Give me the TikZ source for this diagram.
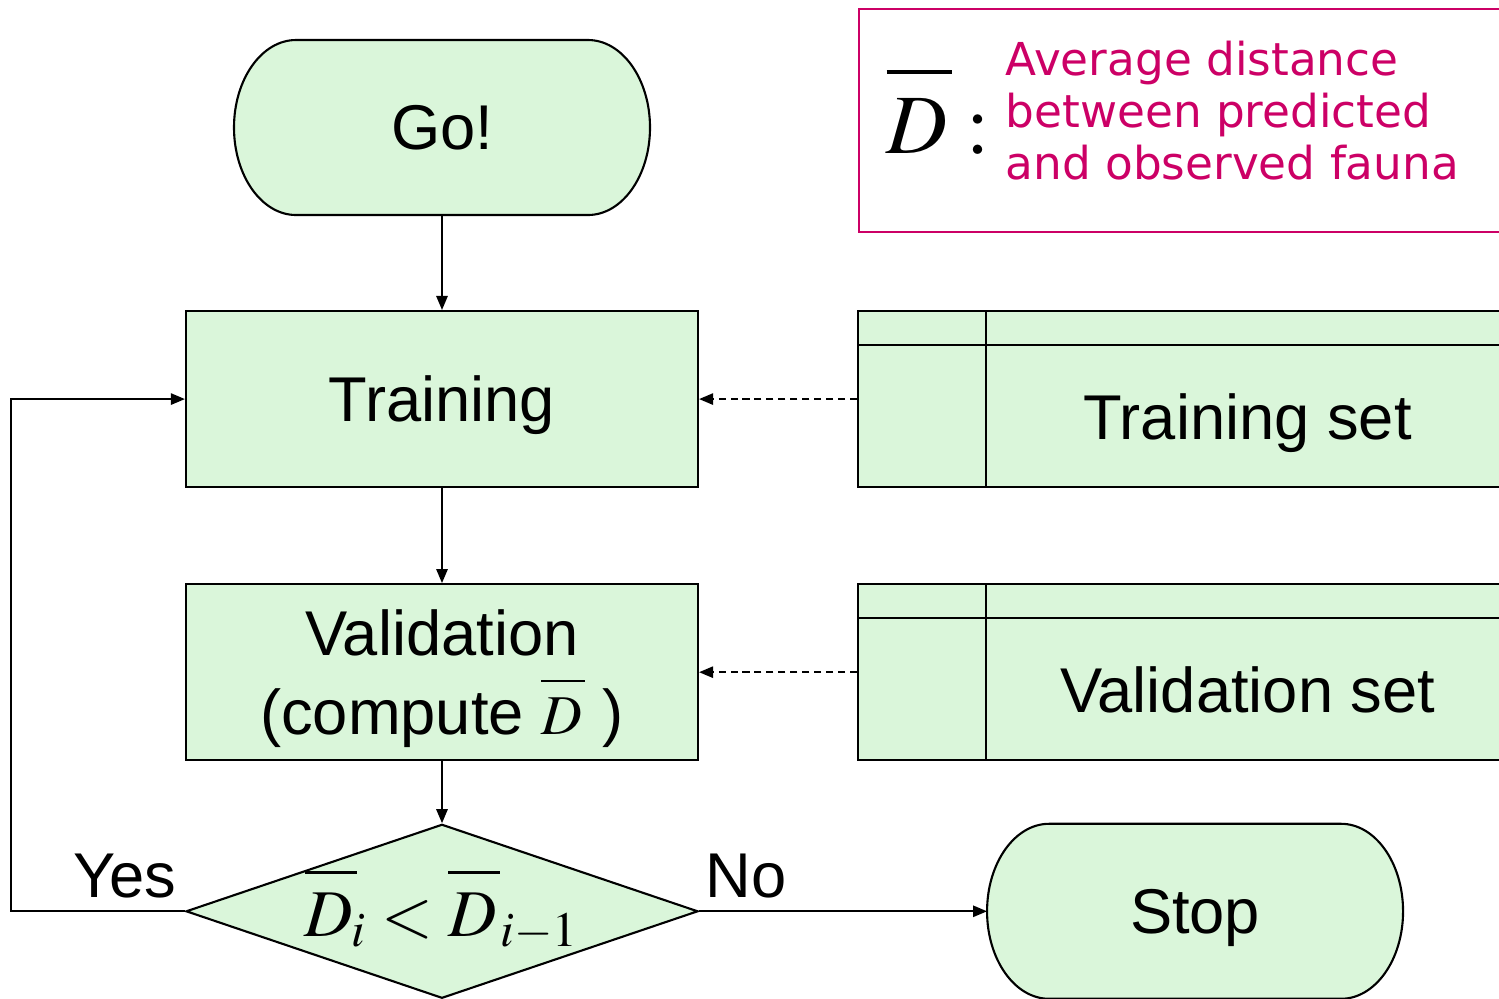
\documentclass[tikz,border=0pt]{standalone}
\usepackage{mathptmx}
\usepackage[no-math]{fontspec}
\setmainfont{Liberation Sans}
\newfontfamily\legendfont{DejaVu Sans}
\usetikzlibrary{arrows.meta, positioning, shapes.geometric, calc, backgrounds}

\definecolor{boxgreen}{RGB}{218,246,218}
\definecolor{legendpink}{RGB}{204,0,102}

% mean distance symbol, bar raised well above the letter
\newcommand{\Dbar}{\overline{\rule{0pt}{0.82em}D\mkern1mu}}

\tikzset{
  flow/.style={draw, line width=0.6pt, fill=boxgreen, align=center,
    font=\fontsize{18}{22.5}\selectfont},
  terminal/.style={line width=0.6pt, outer sep=0pt, minimum width=4.16cm, minimum height=1.75cm,
    text depth=0pt, font=\fontsize{18}{22.5}\selectfont},
  process/.style={flow, minimum width=5.12cm, minimum height=1.76cm, text depth=0pt},
  decision/.style={flow, diamond, aspect=2.94, inner sep=0pt, minimum width=5.12cm,
    minimum height=1.74cm, text height=0.5cm, text depth=0cm, font=\fontsize{19}{22}\selectfont},
  store/.style={flow, minimum width=6.5cm, minimum height=1.76cm},
  storetext/.style={font=\fontsize{18}{22}\selectfont, text depth=0pt},
  answer/.style={inner sep=0pt, font=\fontsize{18}{22}\selectfont},
  link/.style={-{Triangle[length=4pt,width=3.2pt]}, line width=0.6pt},
  feed/.style={link, dash pattern=on 2pt off 1.4pt},
}

\begin{document}
\begin{tikzpicture}[node distance=0.95cm]
\clip (0,0) rectangle (14.99,-9.98);

% main flow
\node[terminal] (go) at (4.42,-1.275) {Go!};
\node[process] (training) [below=of go] {Training};
\node[process] (validation) [below=of training] {Validation\\(compute {\fontsize{16}{20}\selectfont$\Dbar$} )};
\node[decision] (check) [below=0.62cm of validation] {$\Dbar_{\!i} < \Dbar_{i-1}$};
\node[terminal] (stop) [right=2.88cm of check] {Stop};

\node[answer, anchor=base east] (yes) at ($(check.west)+(-0.08,0.14)$) {Yes};
\node[answer, anchor=base west] (no) at ($(check.east)+(0.06,0.14)$) {No};

% start/stop outlines with elliptic ends
\begin{scope}[on background layer]
\foreach \n in {go, stop}
  \draw[line width=0.6pt, fill=boxgreen]
    ([xshift=0.62cm]\n.north west) -- ([xshift=-0.62cm]\n.north east)
    arc[start angle=90, end angle=-90, x radius=0.62cm, y radius=0.875cm]
    -- ([xshift=0.62cm]\n.south west)
    arc[start angle=270, end angle=90, x radius=0.62cm, y radius=0.875cm] -- cycle;
\end{scope}

% data stores
\node[store] (trainset) [right=1.58cm of training] {};
\node[store] (validset) [right=1.58cm of validation] {};
\foreach \s/\t in {trainset/Training set, validset/Validation set} {
  \draw[line width=0.6pt] ([xshift=1.29cm]\s.north west) -- ([xshift=1.29cm]\s.south west);
  \draw[line width=0.6pt] ([yshift=-0.35cm]\s.north west) -- ([yshift=-0.35cm]\s.north east);
  \node[storetext] (\s-label) at ($([xshift=1.29cm]\s.south west)!0.5!([yshift=-0.35cm]\s.north east)$) {\t};
}

% legend
\node[draw=legendpink, line width=0.5pt, minimum width=6.6cm, minimum height=2.23cm,
  anchor=north west] (legend) at (8.58,-0.08) {};
\node[anchor=base west, inner sep=0pt, font=\fontsize{24}{28}\selectfont] (dsym)
  at (8.86,-1.53) {$\Dbar\mkern3mu{:}$};
\node[anchor=north west, inner sep=0pt, align=left, text=legendpink,
  font=\legendfont\fontsize{12.9}{14.8}\selectfont] (note) at (10.05,-0.40)
  {Average distance\\between predicted\\and observed fauna};

% connectors
\draw[link] (go) -- (training);
\draw[link] (training) -- (validation);
\draw[link] (validation) -- (check);
\draw[link] (check) -- (stop);
\draw[link] (check.west) -- ++(-1.74,0) |- (training.west);
\draw[feed] (trainset) -- (training);
\draw[feed] (validset) -- (validation);
\end{tikzpicture}
\end{document}
